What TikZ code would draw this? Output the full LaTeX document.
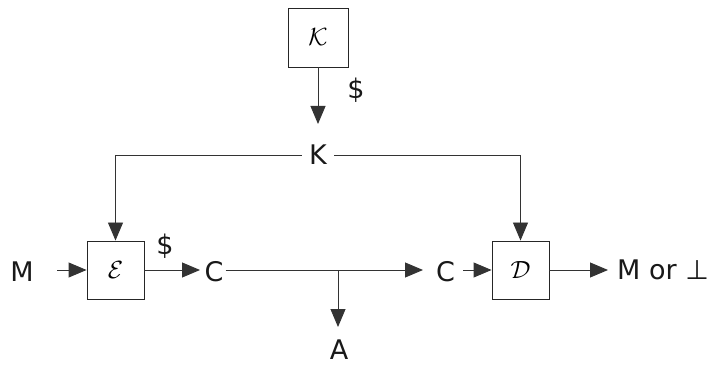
\documentclass[tikz,border=0pt]{standalone}
\usepackage{fontspec}
\setmainfont{DejaVu Sans}
\usetikzlibrary{arrows.meta}
\begin{document}
\begin{tikzpicture}[x=1pt,y=-1pt,
  lbl/.style={inner sep=0pt,font=\fontsize{27}{29}\selectfont,text=black!90},
  blk/.style={draw=black!85,line width=0.9pt,minimum width=57pt,minimum height=58pt,inner sep=0pt},
  conn/.style={draw=black!80,line width=0.9pt},
  arr/.style={conn,-{Triangle[length=18pt,width=15pt]}}]
\useasboundingbox (0,0) rectangle (712,366);
\node[blk,minimum width=60pt,minimum height=59pt] (kbox) at (318,37.5) {\fontsize{30}{32}\selectfont$\mathcal{K}$};
\node[lbl] (kd) at (356,90) {\$};
\node[lbl] (k) at (318,155) {K};
\node[blk] (ebox) at (115.5,270) {\fontsize{24}{26}\selectfont$\mathcal{E}$};
\node[blk] (dbox) at (520.5,270) {\fontsize{24}{26}\selectfont$\mathcal{D}$};
\node[lbl] (m) at (22,272) {M};
\node[lbl] (ed) at (165,246) {\$};
\node[lbl] (c1) at (214,272) {C};
\node[lbl] (c2) at (445.5,272) {C};
\node[lbl,anchor=west] (out) at (617,270) {M or ⊥};
\node[lbl] (a) at (339,350) {A};
\coordinate (br) at (338,270);
\coordinate (kl) at (115.5,155);
\coordinate (kr) at (520.5,155);
\coordinate (mo) at (57,270);
\coordinate (ch) at (423,270);
\draw[arr] (kbox.south) -- (318,124);
\draw[conn] (k.west) ++(-7,0) -- (kl);
\draw[arr] (kl) -- (ebox.north);
\draw[conn] (k.east) ++(7,0) -- (kr);
\draw[arr] (kr) -- (dbox.north);
\draw[arr] (mo) -- (ebox.west);
\draw[arr] (ebox.east) -- (200,270);
\draw[arr] (c1.east) ++(2,-2) -- (ch);
\draw[arr] (br) -- (338,327);
\draw[arr] (463,270) -- (dbox.west);
\draw[arr] (dbox.east) -- (608,270);
\end{tikzpicture}
\end{document}
